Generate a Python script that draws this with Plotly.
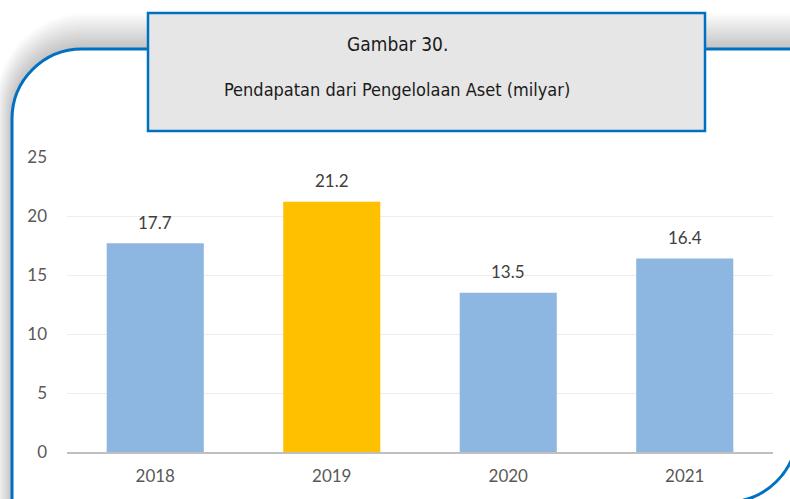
import plotly.graph_objects as go

years = ["2018", "2019", "2020", "2021"]
values = [17.7, 21.2, 13.5, 16.4]
bar_colors = ["#8DB6E1", "#FFC000", "#8DB6E1", "#8DB6E1"]
value_labels = ["17.7", "21.2", "13.5", "16.4"]
title_line1 = "Gambar 30."
title_line2 = "Pendapatan dari Pengelolaan Aset (milyar)"

W, H = 790, 499
ML, MR, MT, MB = 67, 17, 157, 47
PW, PH = W - ML - MR, H - MT - MB


def px(x):
    return (x - ML) / PW


def py(y):
    return (H - MB - y) / PH


def frame_path(x0, y0, x1, y1, r):
    k = 0.5523 * r
    pts = [
        ("M", [(x0 + r, y0)]),
        ("L", [(x1, y0)]),
        ("L", [(x1, y1 - r)]),
        ("C", [(x1, y1 - r + k), (x1 - r + k, y1), (x1 - r, y1)]),
        ("L", [(x0, y1)]),
        ("L", [(x0, y0 + r)]),
        ("C", [(x0, y0 + r - k), (x0 + r - k, y0), (x0 + r, y0)]),
    ]
    s = ""
    for cmd, ps in pts:
        s += cmd + " " + " ".join(f"{px(a):.5f},{py(b):.5f}" for a, b in ps) + " "
    return s + "Z"


fig = go.Figure()
fig.add_trace(go.Bar(
    x=years, y=values, marker=dict(color=bar_colors, line=dict(width=0)),
    width=0.55, hoverinfo="skip", showlegend=False,
))

shapes = []
# shadow layers
for k in range(20, 0, -1):
    shapes.append(dict(
        type="path", xref="paper", yref="paper", layer="below",
        path=frame_path(12 - k * 0.8, 49 - k * 1.8, 797 + k * 0.3, 502 + k * 0.3, 70 + k),
        fillcolor="rgba(0,0,0,0.011)", line=dict(width=0),
    ))
shapes.append(dict(
    type="path", xref="paper", yref="paper", layer="below",
    path=frame_path(12, 49, 797, 502, 70),
    fillcolor="white", line=dict(color="#0070C0", width=3),
))
# title box
shapes.append(dict(
    type="rect", xref="paper", yref="paper", layer="above",
    x0=px(148), x1=px(705), y0=py(13), y1=py(131),
    fillcolor="#E6E6E6", line=dict(color="#0070C0", width=2.5),
))

TF = "DejaVu Sans Condensed, Liberation Sans Narrow, sans-serif"
LF = "Lato, Open Sans, sans-serif"
annotations = [
    dict(xref="paper", yref="paper", x=px(397), y=py(44), text=title_line1,
         xanchor="center", yanchor="middle",
         showarrow=False, font=dict(family=TF, size=19, color="#1a1a1a")),
    dict(xref="paper", yref="paper", x=px(397), y=py(89), text=title_line2,
         xanchor="center", yanchor="middle",
         showarrow=False, font=dict(family=TF, size=18, color="#1a1a1a")),
]
for i, (v, lab) in enumerate(zip(values, value_labels)):
    annotations.append(dict(
        x=i, y=v, xref="x", yref="y", text=lab, showarrow=False,
        xanchor="center", yanchor="middle",
        yshift=21, font=dict(family=LF, size=17, color="#404040"),
    ))

fig.update_layout(
    width=W, height=H,
    margin=dict(l=ML, r=MR, t=MT, b=MB, pad=0),
    paper_bgcolor="white", plot_bgcolor="rgba(0,0,0,0)",
    shapes=shapes, annotations=annotations,
    xaxis=dict(type="category", range=[-0.5, len(years) - 0.5], showgrid=False,
               showline=True, linecolor="#BFBFBF", linewidth=1.5,
               ticks="", tickfont=dict(family=LF, size=17, color="#595959"),
               ticklabelstandoff=8, fixedrange=True),
    yaxis=dict(range=[0, 25], dtick=5, showgrid=True, gridcolor="#EDEDED", gridwidth=1,
               zeroline=False, showline=False, ticks="",
               tickfont=dict(family=LF, size=17, color="#595959"),
               ticklabelstandoff=19, fixedrange=True),
)

fig.write_html("out.html", config={"displayModeBar": False},
               post_script="document.body.style.margin='0';document.body.style.overflow='hidden';")
